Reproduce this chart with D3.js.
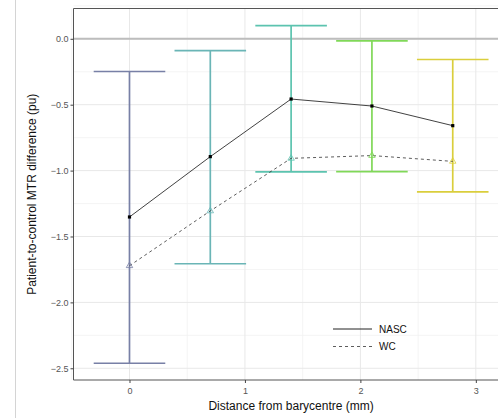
<!DOCTYPE html>
<html><head><meta charset="utf-8">
<script src="https://cdn.jsdelivr.net/npm/d3@7"></script>
<style>body{margin:0;background:#fff}svg{display:block}text{font-family:"Liberation Sans",Arial,sans-serif}</style>
</head><body><svg id="c" width="498" height="418"></svg>
<script>
const distances = [0, 0.7, 1.4, 2.1, 2.8];
const nasc = [-1.352, -0.894, -0.457, -0.51, -0.659];
const wc = [-1.722, -1.306, -0.907, -0.886, -0.93];
const ciLow = [-2.462, -1.707, -1.01, -1.008, -1.162];
const ciHigh = [-0.248, -0.089, 0.10, -0.015, -0.157];
const barColors = ["#7880A6", "#6AB5B6", "#5CC3AF", "#80D858", "#DACE3C"];
const xTicks = [0, 1, 2, 3];
const yTicks = [0, -0.5, -1.0, -1.5, -2.0, -2.5];
const yMinor = [0.25, -0.25, -0.75, -1.25, -1.75, -2.25];
const xMinor = [-0.5, 0.5, 1.5, 2.5];
const seriesNames = ["NASC", "WC"];

const svg = d3.select("#c");
const L = 73.5, T = 8.5, R = 507, B = 380;
const x = d3.scaleLinear().domain([-0.485, 3.27]).range([L, R]);
const y = d3.scaleLinear().domain([0.23, -2.589]).range([T, B]);

svg.append("line").attr("x1",15.5).attr("x2",15.5).attr("y1",0).attr("y2",418).attr("stroke","#d4d4d4").attr("stroke-width",1);

const g = svg.append("g");
g.selectAll(".ym").data(yMinor).join("line").attr("x1",L).attr("x2",R).attr("y1",d=>y(d)).attr("y2",d=>y(d)).attr("stroke","#f1f1f1").attr("stroke-width",0.8);
g.selectAll(".xm").data(xMinor).join("line").attr("y1",T).attr("y2",B).attr("x1",d=>x(d)).attr("x2",d=>x(d)).attr("stroke","#f1f1f1").attr("stroke-width",0.8);
g.selectAll(".yM").data(yTicks).join("line").attr("x1",L).attr("x2",R).attr("y1",d=>y(d)).attr("y2",d=>y(d)).attr("stroke","#e8e8e8").attr("stroke-width",1);
g.selectAll(".xM").data(xTicks).join("line").attr("y1",T).attr("y2",B).attr("x1",d=>x(d)).attr("x2",d=>x(d)).attr("stroke","#e8e8e8").attr("stroke-width",1);

g.append("line").attr("x1",L).attr("x2",R).attr("y1",y(0)).attr("y2",y(0)).attr("stroke","#bdbdbd").attr("stroke-width",2);

const capHalf = 0.31;
distances.forEach((d,i)=>{
  const c = barColors[i];
  g.append("line").attr("x1",x(d)).attr("x2",x(d)).attr("y1",y(ciHigh[i])).attr("y2",y(ciLow[i])).attr("stroke",c).attr("stroke-width",1.7);
  [ciHigh[i], ciLow[i]].forEach(v=>{
    g.append("line").attr("x1",x(d-capHalf)).attr("x2",x(d+capHalf)).attr("y1",y(v)).attr("y2",y(v)).attr("stroke",c).attr("stroke-width",1.7);
  });
});

const line = d3.line().x((d,i)=>x(distances[i])).y(d=>y(d));
g.append("path").datum(nasc).attr("d",line).attr("fill","none").attr("stroke","#111").attr("stroke-width",0.8);
g.append("path").datum(wc).attr("d",line).attr("fill","none").attr("stroke","#333").attr("stroke-width",0.8).attr("stroke-dasharray","3,3");

g.selectAll(".np").data(nasc).join("rect").attr("x",(d,i)=>x(distances[i])-1.6).attr("y",d=>y(d)-1.6).attr("width",3.2).attr("height",3.2).attr("fill","#000");
const tri = d3.symbol().type(d3.symbolTriangle).size(18);
g.selectAll(".wp").data(wc).join("path").attr("d",tri).attr("transform",(d,i)=>`translate(${x(distances[i])},${y(d)})`).attr("fill","none").attr("stroke",(d,i)=>barColors[i]).attr("stroke-width",0.8);

svg.append("path").attr("d",`M${R},${T}H${L}V${B}H${R}`).attr("fill","none").attr("stroke","#555").attr("stroke-width",1);

const xa = svg.append("g").attr("transform",`translate(0,${B})`).call(d3.axisBottom(x).tickValues(xTicks).tickFormat(d3.format("d")).tickSize(3).tickSizeOuter(0));
xa.select(".domain").remove();
xa.selectAll("line").attr("stroke","#444");
xa.selectAll("text").attr("fill","#555").attr("font-size",9).attr("dy","0.9em");
const ya = svg.append("g").attr("transform",`translate(${L},0)`).call(d3.axisLeft(y).tickValues(yTicks).tickFormat(d3.format(".1f")).tickSize(3).tickSizeOuter(0));
ya.select(".domain").remove();
ya.selectAll("line").attr("stroke","#444");
ya.selectAll("text").attr("fill","#555").attr("font-size",9).attr("x",-5);

svg.append("text").attr("x",x(1.4)).attr("y",410).attr("text-anchor","middle").attr("font-size",12).attr("fill","#111").text("Distance from barycentre (mm)");
svg.append("text").attr("transform",`translate(36,${(T+B)/2}) rotate(-90)`).attr("text-anchor","middle").attr("font-size",12).attr("fill","#111").text("Patient-to-control MTR difference (pu)");

const lg = svg.append("g");
seriesNames.forEach((n,i)=>{
  const yy = 329 + i*17.5;
  lg.append("line").attr("x1",333).attr("x2",372).attr("y1",yy).attr("y2",yy).attr("stroke",i? "#333":"#222").attr("stroke-width",i?0.8:1).attr("stroke-dasharray",i?"3,3":null);
  lg.append("text").attr("x",379).attr("y",yy+3.5).attr("font-size",10).attr("fill","#111").text(n);
});
</script></body></html>
